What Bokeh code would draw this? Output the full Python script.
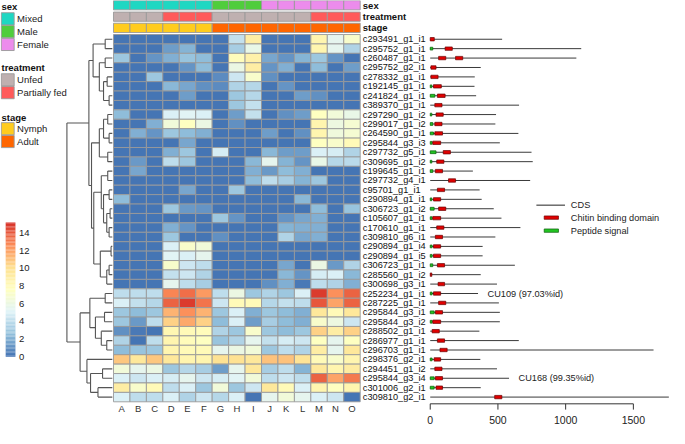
import numpy as np
from bokeh.plotting import figure
from bokeh.models import Range1d, LinearColorMapper, ColumnDataSource
from bokeh.core.properties import value
from bokeh.embed import file_html
from bokeh.resources import INLINE

# ---------------- data ----------------
samples = ["A", "B", "C", "D", "E", "F", "G", "H", "I", "J", "K", "L", "M", "N", "O"]
sex = ["Mixed", "Mixed", "Mixed", "Mixed", "Mixed", "Mixed", "Male", "Male", "Male",
       "Female", "Female", "Female", "Female", "Female", "Female"]
treatment = ["Unfed", "Unfed", "Unfed", "Partially fed", "Partially fed", "Partially fed",
             "Unfed", "Unfed", "Unfed", "Unfed", "Unfed", "Unfed",
             "Partially fed", "Partially fed", "Partially fed"]
stage = ["Nymph", "Nymph", "Nymph", "Nymph", "Nymph", "Nymph", "Adult", "Adult", "Adult",
         "Adult", "Adult", "Adult", "Adult", "Adult", "Adult"]

sex_levels = ["Mixed", "Male", "Female"]
sex_colors = ["#1FD7C2", "#50CD3C", "#EC8CEC"]
treat_levels = ["Unfed", "Partially fed"]
treat_colors = ["#BFB0B0", "#FF5A5A"]
stage_levels = ["Nymph", "Adult"]
stage_colors = ["#FFCC1E", "#FF6600"]

genes = ["c293491_g1_i1", "c295752_g1_i1", "c260487_g1_i1", "c295752_g2_i1", "c278332_g1_i1",
         "c192145_g1_i1", "c241824_g1_i1", "c389370_g1_i1", "c297290_g1_i2", "c299017_g1_i2",
         "c264590_g1_i1", "c295844_g3_i3", "c297732_g5_i1", "c309695_g1_i2", "c199645_g1_i1",
         "c297732_g4_i1", "c95701_g1_i1", "c290894_g1_i1", "c306723_g1_i2", "c105607_g1_i1",
         "c170610_g1_i1", "c309810_g6_i1", "c290894_g1_i4", "c290894_g1_i5", "c306723_g1_i1",
         "c285560_g1_i2", "c300698_g3_i1", "c252234_g1_i1", "c287225_g1_i1", "c295844_g3_i1",
         "c295844_g3_i2", "c288502_g1_i1", "c286977_g1_i1", "c296703_g1_i1", "c298376_g2_i1",
         "c294451_g1_i2", "c295844_g3_i4", "c301006_g2_i1", "c309810_g2_i1"]

expression = [
    [0, 0, 0, 0, 0, 0, 0, 4.2, 9, 0, 0, 0, 8.5, 5.5, 7],
    [0, 0, 0, 1.5, 2.2, 0, 0, 3.2, 5.8, 0, 0, 0, 8.5, 5.5, 3.5],
    [3, 0, 1.2, 2, 2.8, 2.5, 0, 7.8, 8.8, 1.8, 1.2, 2.2, 3, 1.2, 0],
    [0, 0, 0, 0, 1.2, 2.5, 0, 6, 9, 1.2, 2, 0, 2.5, 0, 1.5],
    [0, 0, 3, 0, 0, 0, 0.8, 4.5, 7, 1, 0, 0, 0, 0, 0],
    [0, 0, 0, 2.3, 1.8, 1, 0.8, 3.5, 3.8, 0, 1.2, 0, 0, 0, 0],
    [0, 0, 0, 0, 1.5, 0, 0, 3, 3.8, 0, 0, 1.5, 1, 0, 0],
    [0, 0, 0, 0, 0, 0, 0, 3, 4.2, 0, 0, 0, 0, 0, 0],
    [2.5, 0, 0, 5, 5.3, 5, 0, 1.5, 4.2, 0, 1, 1.5, 7.5, 6.5, 5.8],
    [0, 0, 2, 6.5, 7.5, 6, 0, 1, 0, 0, 0, 0, 8.5, 6.2, 6.8],
    [0, 2, 1.2, 3, 2.5, 2, 0, 0, 0, 1.5, 0, 1, 8.5, 6.3, 6.8],
    [0, 0, 0, 0, 1.8, 0, 0, 0, 0, 0, 0, 0, 7.5, 7, 8],
    [0, 0, 0, 2, 3, 0, 4.8, 0, 0, 2.3, 1.5, 1.5, 5, 4.8, 3.5],
    [0, 1.3, 0, 4, 3, 0, 0, 0, 2.3, 5.5, 2.2, 1.2, 5.8, 3.8, 3.9],
    [0, 1.7, 0, 0, 0, 0, 0, 0, 2.1, 1.3, 2.5, 2.1, 0, 0, 0],
    [0, 0, 0, 0, 0, 0, 0, 0, 2.5, 4, 3.2, 2.2, 3, 0, 0],
    [0, 0, 0, 0, 1.8, 0, 0, 3, 0, 0, 0, 0, 0, 0, 0],
    [2.5, 0, 0, 0, 0, 0, 0, 0, 0, 0, 0, 2.3, 0, 0, 0],
    [0, 0, 0, 3, 1.3, 1.2, 0, 0, 0, 0, 0, 0, 2.5, 0, 2.8],
    [0, 0, 0, 0, 0, 0, 3, 1.2, 0, 0, 1.2, 1.8, 2, 0, 0],
    [0, 0, 0, 2, 1.2, 0, 0, 0, 0, 0, 2.2, 2, 2, 0, 0],
    [0, 0, 0, 3, 0, 0, 1, 0, 0, 0, 3.5, 1.8, 2, 0, 0],
    [0, 0, 0, 5, 7, 6.5, 0, 0, 0, 0, 0, 0, 0, 0, 0],
    [0, 0, 0, 5.2, 5, 5.5, 0, 0, 0, 0, 0, 0, 0, 0, 0],
    [0, 0, 0, 7, 4.5, 4, 0, 0, 0, 0, 1.8, 0, 6, 1.3, 3.5],
    [0, 0, 0, 4.2, 4.5, 3.6, 0, 0, 0, 0, 2.4, 1.2, 4.8, 4.9, 2.4],
    [0, 0, 0, 5.5, 4, 3.2, 0, 0, 0, 1, 2, 0.3, 4, 3.5, 2],
    [4, 4, 4, 12.8, 13.5, 12.3, 4, 6, 3, 3.5, 3, 5, 14.8, 12.5, 13.8],
    [5, 4.2, 3.8, 13.8, 14.8, 13.3, 4.5, 8, 8, 3.8, 4.2, 4, 14, 12, 13.8],
    [3, 2.5, 3, 11.5, 12.5, 11.5, 3, 5, 2, 3, 2.5, 2, 9.5, 8, 9.5],
    [3, 1.3, 4, 10.5, 11.8, 10.5, 2.5, 5, 1.5, 3.2, 2.5, 2, 7, 6.2, 4.5],
    [1, 0.2, 0, 8.3, 8, 7.8, 3.5, 3, 7, 3, 2.5, 3, 10.5, 9, 10.5],
    [3.5, 0, 4, 8.5, 7.8, 7.5, 2.8, 3.5, 5.5, 4.2, 4.8, 4.5, 7.5, 5.5, 7.5],
    [2.5, 2.8, 3, 8.5, 8, 8, 5.5, 6, 6.5, 3, 4, 3.5, 9, 5.5, 9.5],
    [10.8, 9.5, 10.8, 9.5, 8.5, 8.5, 10, 10, 9.5, 11, 11, 9.8, 8, 7, 8.5],
    [6.5, 5.5, 6, 3, 3.8, 3.2, 1.5, 5.5, 9.5, 3.2, 4, 2.2, 9.5, 8.5, 9.2],
    [5, 4.5, 5, 4.8, 5.5, 4.5, 4.8, 5.3, 6.5, 4, 4.5, 4, 13.8, 12, 13.2],
    [9, 7, 8, 4, 5, 3, 6.5, 3, 4.5, 9.5, 8, 5, 8.5, 7.5, 8.5],
    [5, 4, 4, 5, 3.5, 4.5, 3.8, 5, 0, 5.5, 6.5, 5.5, 5, 4.5, 0],
]

# hierarchical clustering of rows: (child_a, child_b, height); leaves 0..38, merges 39+
linkage = [
    (0, 1, 7.3), (2, 3, 7.3), (4, 5, 5.3), (6, 7, 3.3), (41, 42, 9.0), (40, 43, 13.3), (39, 44, 19.7),
    (8, 9, 4.7), (10, 11, 3.3), (46, 47, 9.0), (12, 13, 4.7), (48, 49, 13.3),
    (14, 15, 4.7), (16, 17, 3.3), (18, 19, 2.3), (20, 21, 3.3), (53, 54, 5.7), (52, 55, 9.0),
    (51, 56, 11.3), (22, 23, 1.3), (24, 25, 3.3), (59, 26, 5.7), (58, 60, 12.3), (57, 61, 19.0),
    (50, 62, 21.3), (45, 63, 24.0),
    (27, 28, 7.3), (29, 30, 8.0), (32, 33, 5.7), (31, 67, 11.3), (66, 68, 17.3), (65, 69, 23.0),
    (35, 36, 10.0), (37, 38, 14.7), (71, 72, 22.3), (34, 73, 26.0), (70, 74, 33.0),
    (64, 75, 46.5),
]

# gene structures (amino-acid positions)
gene_length = [531, 1115, 1079, 373, 329, 327, 339, 656, 486, 481, 651, 514, 748, 757, 315,
               738, 365, 380, 469, 526, 666, 481, 387, 387, 625, 373, 493, 353, 507, 514,
               514, 363, 654, 1649, 370, 493, 582, 373, 1762]
peptide_end = [None, 19, None, None, None, 12, 34, None, 12, 19, 24, 14, 43, 12, 19,
               None, None, 12, 29, 14, None, None, 14, 14, 19, None, None, 14, None, 29,
               14, None, None, None, 14, None, 29, 29, None]
domain_start = [[0], [110], [62, 187], [5], [5], [24], [53], [34], [43], [34], [34], [19], [96], [48], [38],
                [135], [53], [24], [62], [19], [48], [38], [24], [24], [53], [0], [58], [24], [62], [38],
                [19], [14], [53], [72], [29], [34], [38], [43], [476]]
domain_end = [[30], [163], [115, 240], [43], [58], [82], [110], [87], [96], [87], [91], [77], [149], [101], [91],
              [187], [106], [77], [115], [77], [101], [91], [77], [77], [106], [12], [106], [77], [115], [91],
              [77], [67], [106], [125], [77], [87], [91], [91], [529]]
hit_genes = ["c252234_g1_i1", "c295844_g3_i4"]
hit_labels = ["CU109 (97.03%id)", "CU168 (99.35%id)"]
axis_ticks = [0, 500, 1000, 1500]
colorbar_ticks = [0, 2, 4, 6, 8, 10, 12, 14]
value_max = 15.2

# ---------------- figure (coordinates in reference pixels) ----------------
W, H = 685, 444
p = figure(width=669, height=428, x_range=Range1d(0, W), y_range=Range1d(H, 0),
           min_border=0, toolbar_location=None, output_backend="svg",
           x_axis_location=None, y_axis_location=None, title=None)
p.grid.visible = False
p.outline_line_color = None
p.background_fill_color = "white"
p.border_fill_color = "white"

def xr(v0, p0, v1, p1):
    s = (p1 - p0) / (v1 - v0)
    return Range1d(start=v0 - p0 / s, end=v0 + (W - p0) / s)

def yr(v0, p0, v1, p1):
    b0, b1 = H - p0, H - p1
    s = (b1 - b0) / (v1 - v0)
    return Range1d(start=v0 - b0 / s, end=v0 + (H - b0) / s)

nrow, ncol = len(genes), len(samples)
HM_L, HM_R, HM_T, HM_B = 115.7, 368.3, 35.3, 416.3
p.extra_x_ranges = {
    "hx": xr(0, HM_L, ncol, HM_R),
    "dx": xr(0, 114.5, 46.5, 68.0),
    "gx": xr(0, 440.0, 1500, 648.0),
}
p.extra_y_ranges = {
    "hy": yr(0, HM_T, nrow, HM_B),
    "cb": yr(0, 369.5, 14, 241.2),
}

FONT = value("Liberation Sans")
GRID = "#9a9a9a"

# palette: rev(RdYlBu 7) interpolated to 100
base = ["#4575B4", "#91BFDB", "#E0F3F8", "#FFFFBF", "#FEE090", "#FC8D59", "#D73027"]
def hex2rgb(h):
    return np.array([int(h[i:i + 2], 16) for i in (1, 3, 5)], dtype=float)
brgb = [hex2rgb(c) for c in base]
palette = []
for t in np.linspace(0, 1, 100):
    f = t * (len(base) - 1)
    i = min(int(f), len(base) - 2)
    fr = f - i
    c = brgb[i] * (1 - fr) + brgb[i + 1] * fr
    palette.append("#%02x%02x%02x" % tuple(int(round(x)) for x in c))
mapper = LinearColorMapper(palette=palette, low=0, high=value_max)

# ---- heatmap ----
hx, hy, hv = [], [], []
for r in range(nrow):
    for c in range(ncol):
        hx.append(c)
        hy.append(r)
        hv.append(expression[r][c])
hsrc = ColumnDataSource(dict(l=hx, r=[x + 1 for x in hx], t=hy, b=[y + 1 for y in hy], v=hv))
p.quad(left="l", right="r", top="t", bottom="b", source=hsrc,
       fill_color={"field": "v", "transform": mapper}, line_color=GRID, line_width=0.9,
       x_range_name="hx", y_range_name="hy")

# ---- row labels ----
p.text(x=[371.0] * nrow, y=[r + 0.5 for r in range(nrow)], text=genes, y_range_name="hy",
       text_font=FONT, text_font_size=value("9.2px"), text_baseline="middle", text_align="left",
       text_color="#111111")
# ---- column labels ----
p.text(x=[c + 0.5 for c in range(ncol)], y=[423.5] * ncol, text=samples, x_range_name="hx",
       text_font=FONT, text_font_size=value("9.5px"), text_baseline="middle", text_align="center",
       text_color="#333333")

# ---- annotation tracks ----
tracks = [("sex", sex, sex_levels, sex_colors, 4.9),
          ("treatment", treatment, treat_levels, treat_colors, 16.8),
          ("stage", stage, stage_levels, stage_colors, 28.4)]
for name, vals, levels, cols, yc in tracks:
    fills = [cols[levels.index(v)] for v in vals]
    src = ColumnDataSource(dict(l=list(range(ncol)), r=[c + 1 for c in range(ncol)], f=fills))
    p.quad(left="l", right="r", top=yc - 4.8, bottom=yc + 4.8, fill_color="f", line_color=GRID,
           line_width=0.9, source=src, x_range_name="hx")
p.text(x=[371.0] * 3, y=[t[4] for t in tracks], text=[t[0] for t in tracks], text_font=FONT,
       text_font_size=value("9.5px"), text_font_style="bold", text_baseline="middle", text_color="#111111")

# ---- left legends ----
leg_title_y = [6.5, 70.0, 121.7]
leg_first_y = [19.0, 82.3, 133.0]
for (name, vals, levels, cols, yc), ty, fy in zip(tracks, leg_title_y, leg_first_y):
    p.text(x=[1.0], y=[ty], text=[name], text_font=FONT, text_font_size=value("9.5px"),
           text_font_style="bold", text_baseline="middle", text_color="#111111")
    ys = [fy + 13.3 * i for i in range(len(levels))]
    p.quad(left=0.8, right=14.0, top=[y - 6.3 for y in ys], bottom=[y + 6.3 for y in ys],
           fill_color=cols, line_color=GRID, line_width=0.9)
    p.text(x=[17.0] * len(levels), y=ys, text=levels, text_font=FONT, text_font_size=value("9.5px"),
           text_baseline="middle", text_color="#222222")

# ---- colour bar ----
edges = np.linspace(0, value_max, len(palette) + 1)
p.quad(left=5.3, right=15.3, bottom=edges[:-1], top=edges[1:], fill_color=palette, line_color=None,
       y_range_name="cb")
p.text(x=[19.0] * len(colorbar_ticks), y=colorbar_ticks, text=[str(t) for t in colorbar_ticks],
       y_range_name="cb", text_font=FONT, text_font_size=value("9.5px"), text_baseline="middle",
       text_color="#222222")

# ---- dendrogram ----
pos = [r + 0.5 for r in range(nrow)]
hgt = [0.0] * nrow
x0, y0, x1, y1 = [], [], [], []
for a, b, h in linkage:
    for ch in (a, b):
        x0.append(hgt[ch]); y0.append(pos[ch]); x1.append(h); y1.append(pos[ch])
    x0.append(h); y0.append(pos[a]); x1.append(h); y1.append(pos[b])
    pos.append((pos[a] + pos[b]) / 2.0)
    hgt.append(h)
p.segment(x0=x0, y0=y0, x1=x1, y1=y1, line_color="#555555", line_width=1.1,
          x_range_name="dx", y_range_name="hy")

# ---- gene structures ----
rows_c = [r + 0.5 for r in range(nrow)]
p.segment(x0=[0] * nrow, y0=rows_c, x1=gene_length, y1=rows_c, line_color="#3a3a3a", line_width=1.0,
          x_range_name="gx", y_range_name="hy")
pl, pr, pt, pb = [], [], [], []
for r, e in enumerate(peptide_end):
    if e is not None:
        pl.append(0); pr.append(e); pt.append(r + 0.5 - 0.15); pb.append(r + 0.5 + 0.15)
p.quad(left=pl, right=pr, top=pt, bottom=pb, fill_color="#22C422", line_color="#0B5E0B", line_width=0.7,
       x_range_name="gx", y_range_name="hy")
dl, dr, dt, db = [], [], [], []
for r in range(nrow):
    for s_, e_ in zip(domain_start[r], domain_end[r]):
        dl.append(s_); dr.append(e_); dt.append(r + 0.5 - 0.18); db.append(r + 0.5 + 0.18)
p.quad(left=dl, right=dr, top=dt, bottom=db, fill_color="#E00000", line_color="#6B0000", line_width=0.7,
       x_range_name="gx", y_range_name="hy")
hr = [genes.index(g) for g in hit_genes]
p.text(x=[gene_length[i] + 70 for i in hr], y=[i + 0.5 for i in hr], text=hit_labels,
       x_range_name="gx", y_range_name="hy", text_font=FONT, text_font_size=value("9.2px"),
       text_baseline="middle", text_color="#222222")

# gene axis
p.segment(x0=[axis_ticks[0]], y0=[418.4], x1=[axis_ticks[-1]], y1=[418.4], line_color="#333333",
          line_width=1.0, x_range_name="gx")
p.segment(x0=axis_ticks, y0=[418.4] * len(axis_ticks), x1=axis_ticks, y1=[424.4] * len(axis_ticks),
          line_color="#333333", line_width=1.0, x_range_name="gx")
p.text(x=axis_ticks, y=[435.0] * len(axis_ticks), text=[str(t) for t in axis_ticks], x_range_name="gx",
       text_font=FONT, text_font_size=value("10.5px"), text_baseline="middle", text_align="center",
       text_color="#222222")

# feature legend
p.segment(x0=[548.7], y0=[212.3], x1=[578.0], y1=[212.3], line_color="#222222", line_width=1.0)
p.quad(left=556.7, right=571.3, top=[223.5, 237.0], bottom=[227.0, 240.5],
       fill_color=["#E00000", "#22C422"], line_color=["#6B0000", "#0B5E0B"], line_width=0.7)
p.text(x=[584.0] * 3, y=[212.3, 225.3, 238.7], text=["CDS", "Chitin binding domain", "Peptide signal"],
       text_font=FONT, text_font_size=value("9.2px"), text_baseline="middle", text_color="#222222")

open("out.html", "w").write(file_html(p, INLINE))
